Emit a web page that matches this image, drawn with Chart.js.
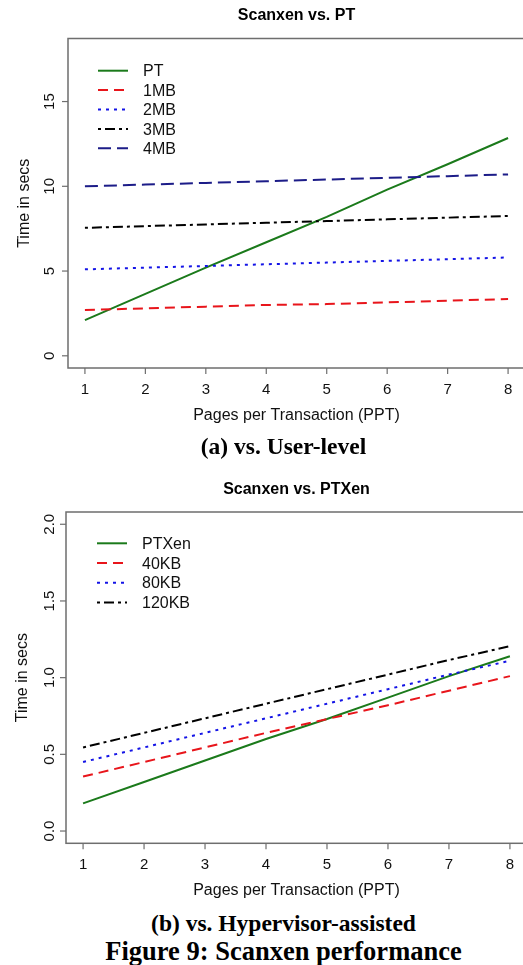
<!DOCTYPE html>
<html>
<head>
<meta charset="utf-8">
<title>Scanxen performance</title>
<script src="https://cdn.jsdelivr.net/npm/chart.js@4.4.0/dist/chart.umd.min.js"></script>
<style>
  html, body { margin: 0; padding: 0; background: #fff; }
  body { width: 523px; height: 965px; overflow: hidden; position: relative; }
  canvas { position: absolute; left: 0; }
  #userChart { top: 0; }
  #hvChart { top: 470px; }
  .caption {
    position: absolute; left: 0; width: 567px; text-align: center;
    font-family: "Liberation Serif", "Times New Roman", serif; font-weight: bold;
    color: #000; white-space: nowrap; line-height: 1;
  }
</style>
</head>
<body>
<canvas id="userChart" width="540" height="440"></canvas>
<canvas id="hvChart" width="540" height="440"></canvas>
<div class="caption" style="top:435px;font-size:23.5px">(a) vs. User-level</div>
<div class="caption" style="top:912px;font-size:23.5px">(b) vs. Hypervisor-assisted</div>
<div class="caption" style="top:938px;font-size:26.5px">Figure 9: Scanxen performance</div>
<script>
// pages per transaction (x axis, both panels)
const pptValues = [1, 2, 3, 4, 5, 6, 7, 8];

// panel (a): Scanxen vs. user-level PT, time in secs
const userTicksY = [0, 5, 10, 15];
const userTickLabels = ['0', '5', '10', '15'];
const ptTimes     = [2.1, 3.65, 5.2, 6.7, 8.2, 9.8, 11.3, 12.85];
const mb1Times    = [2.7, 2.8, 2.9, 3.0, 3.05, 3.15, 3.25, 3.35];
const mb2Times    = [5.1, 5.2, 5.3, 5.4, 5.5, 5.6, 5.7, 5.8];
const mb3Times    = [7.55, 7.65, 7.75, 7.85, 7.95, 8.05, 8.15, 8.25];
const mb4Times    = [10.0, 10.1, 10.2, 10.3, 10.4, 10.5, 10.6, 10.7];

// panel (b): Scanxen vs. hypervisor-assisted PTXen
const hvTicksY = [0, 0.5, 1.0, 1.5, 2.0];
const hvTickLabels = ['0.0', '0.5', '1.0', '1.5', '2.0'];
const ptxenTimes  = [0.18, 0.32, 0.46, 0.6, 0.73, 0.87, 1.01, 1.14];
const kb40Times   = [0.355, 0.45, 0.545, 0.64, 0.73, 0.82, 0.915, 1.01];
const kb80Times   = [0.45, 0.545, 0.64, 0.735, 0.83, 0.925, 1.02, 1.11];
const kb120Times  = [0.545, 0.64, 0.735, 0.83, 0.925, 1.02, 1.115, 1.205];

const AXIS_GREY = '#6e6e6e';
const SANS = '"Liberation Sans", Arial, Helvetica, sans-serif';

const GREEN = '#1b7a1b', RED = '#e8151b', BLUE = '#1414e6', NAVY = '#1c1c88', BLACK = '#000000';
const SOLID = [], DASHED = [10, 6], DOTTED = [3, 5], DOTDASH = [3, 4, 10, 4], LONGDASH = [13, 6];

function series(label, values, color, dash) {
  return { label, values, color, dash };
}

// draws the R-style frame: box, ticks, rotated y labels, titles, legend
const figurePlugin = {
  id: 'figureText',
  afterDraw(chart, args, o) {
    const { ctx, chartArea: a, scales: { x, y } } = chart;
    ctx.save();
    ctx.strokeStyle = AXIS_GREY;
    ctx.lineWidth = 1.5;
    ctx.setLineDash([]);
    ctx.strokeRect(a.left, a.top, a.right - a.left, a.bottom - a.top);

    ctx.lineWidth = 1.2;
    ctx.fillStyle = '#111';
    ctx.font = '15px ' + SANS;

    // y ticks, labels turned to read upward
    o.yTicks.forEach((v, i) => {
      const py = y.getPixelForValue(v);
      ctx.beginPath();
      ctx.moveTo(a.left - 6, py);
      ctx.lineTo(a.left, py);
      ctx.stroke();
      ctx.save();
      ctx.translate(53.5, py);
      ctx.rotate(-Math.PI / 2);
      ctx.textAlign = 'center';
      ctx.textBaseline = 'alphabetic';
      ctx.fillText(o.yLabels[i], 0, 0);
      ctx.restore();
    });

    // x ticks
    ctx.textAlign = 'center';
    ctx.textBaseline = 'alphabetic';
    pptValues.forEach(v => {
      const px = x.getPixelForValue(v);
      ctx.beginPath();
      ctx.moveTo(px, a.bottom);
      ctx.lineTo(px, a.bottom + 6);
      ctx.stroke();
      ctx.fillText(String(v), px, o.xLabelBase);
    });

    const midX = (a.left + a.right) / 2;
    ctx.font = '16px ' + SANS;
    ctx.fillText('Pages per Transaction (PPT)', midX, o.xTitleBase);

    ctx.save();
    ctx.translate(o.yTitleBase, (a.top + a.bottom) / 2);
    ctx.rotate(-Math.PI / 2);
    ctx.fillText('Time in secs', 0, 0);
    ctx.restore();

    ctx.font = 'bold 16px ' + SANS;
    ctx.fillStyle = '#000';
    ctx.fillText(o.title, midX, o.titleBase);

    // legend in the top-left corner of the plot
    ctx.font = '16px ' + SANS;
    ctx.textAlign = 'left';
    chart.data.datasets.forEach((ds, i) => {
      const ly = o.legendY + i * o.legendStep;
      ctx.strokeStyle = ds.borderColor;
      ctx.lineWidth = 2;
      ctx.setLineDash(ds.borderDash);
      ctx.beginPath();
      ctx.moveTo(o.legendX, ly);
      ctx.lineTo(o.legendX + 30, ly);
      ctx.stroke();
      ctx.setLineDash([]);
      ctx.fillStyle = '#111';
      ctx.fillText(ds.label, o.legendX + 45, ly + 5.7);
    });
    ctx.restore();
  }
};

function makeChart(id, cfg) {
  const canvas = document.getElementById(id);
  const W = canvas.width, H = canvas.height;
  const n = cfg.lines.length;
  return new Chart(canvas, {
    type: 'line',
    data: {
      datasets: cfg.lines.map((s, i) => ({
        label: s.label,
        data: pptValues.map((p, k) => ({ x: p, y: s.values[k] })),
        borderColor: s.color,
        borderDash: s.dash,
        borderWidth: 2,
        borderCapStyle: 'butt',
        pointRadius: 0,
        tension: 0,
        fill: false,
        order: n - i
      }))
    },
    options: {
      responsive: false,
      animation: false,
      events: [],
      layout: { padding: { top: cfg.box.top, right: W - cfg.box.right, left: 0, bottom: 0 } },
      plugins: {
        legend: { display: false },
        title: { display: false },
        tooltip: { enabled: false },
        figureText: cfg.text
      },
      scales: {
        x: {
          type: 'linear',
          min: 0.72, max: 8.28,
          afterBuildTicks: s => { s.ticks = pptValues.map(v => ({ value: v })); },
          afterFit: s => { s.height = H - cfg.box.bottom; },
          grid: { display: false }, border: { display: false }, ticks: { display: false }
        },
        y: {
          type: 'linear',
          min: cfg.yMin, max: cfg.yMax,
          afterBuildTicks: s => { s.ticks = cfg.text.yTicks.map(v => ({ value: v })); },
          afterFit: s => { s.width = cfg.box.left; },
          grid: { display: false }, border: { display: false }, ticks: { display: false }
        }
      }
    },
    plugins: [figurePlugin]
  });
}

document.addEventListener('DOMContentLoaded', function () {
  // 用户态 PT 对比
  makeChart('userChart', {
    box: { left: 68, top: 38.5, right: 525, bottom: 368 },
    yMin: -0.72, yMax: 18.72,
    lines: [
      series('PT', ptTimes, GREEN, SOLID),
      series('1MB', mb1Times, RED, DASHED),
      series('2MB', mb2Times, BLUE, DOTTED),
      series('3MB', mb3Times, BLACK, DOTDASH),
      series('4MB', mb4Times, NAVY, LONGDASH)
    ],
    text: {
      title: 'Scanxen vs. PT', titleBase: 20,
      yTicks: userTicksY, yLabels: userTickLabels,
      xLabelBase: 394, xTitleBase: 420, yTitleBase: 28.5,
      legendX: 98, legendY: 70.7, legendStep: 19.4
    }
  });

  // Hypervisor 辅助 PTXen 对比
  makeChart('hvChart', {
    box: { left: 66, top: 42, right: 527, bottom: 373.3 },
    yMin: -0.08, yMax: 2.08,
    lines: [
      series('PTXen', ptxenTimes, GREEN, SOLID),
      series('40KB', kb40Times, RED, DASHED),
      series('80KB', kb80Times, BLUE, DOTTED),
      series('120KB', kb120Times, BLACK, DOTDASH)
    ],
    text: {
      title: 'Scanxen vs. PTXen', titleBase: 23.5,
      yTicks: hvTicksY, yLabels: hvTickLabels,
      xLabelBase: 399, xTitleBase: 425, yTitleBase: 27,
      legendX: 97, legendY: 73.3, legendStep: 19.7
    }
  });
});
</script>
</body>
</html>
